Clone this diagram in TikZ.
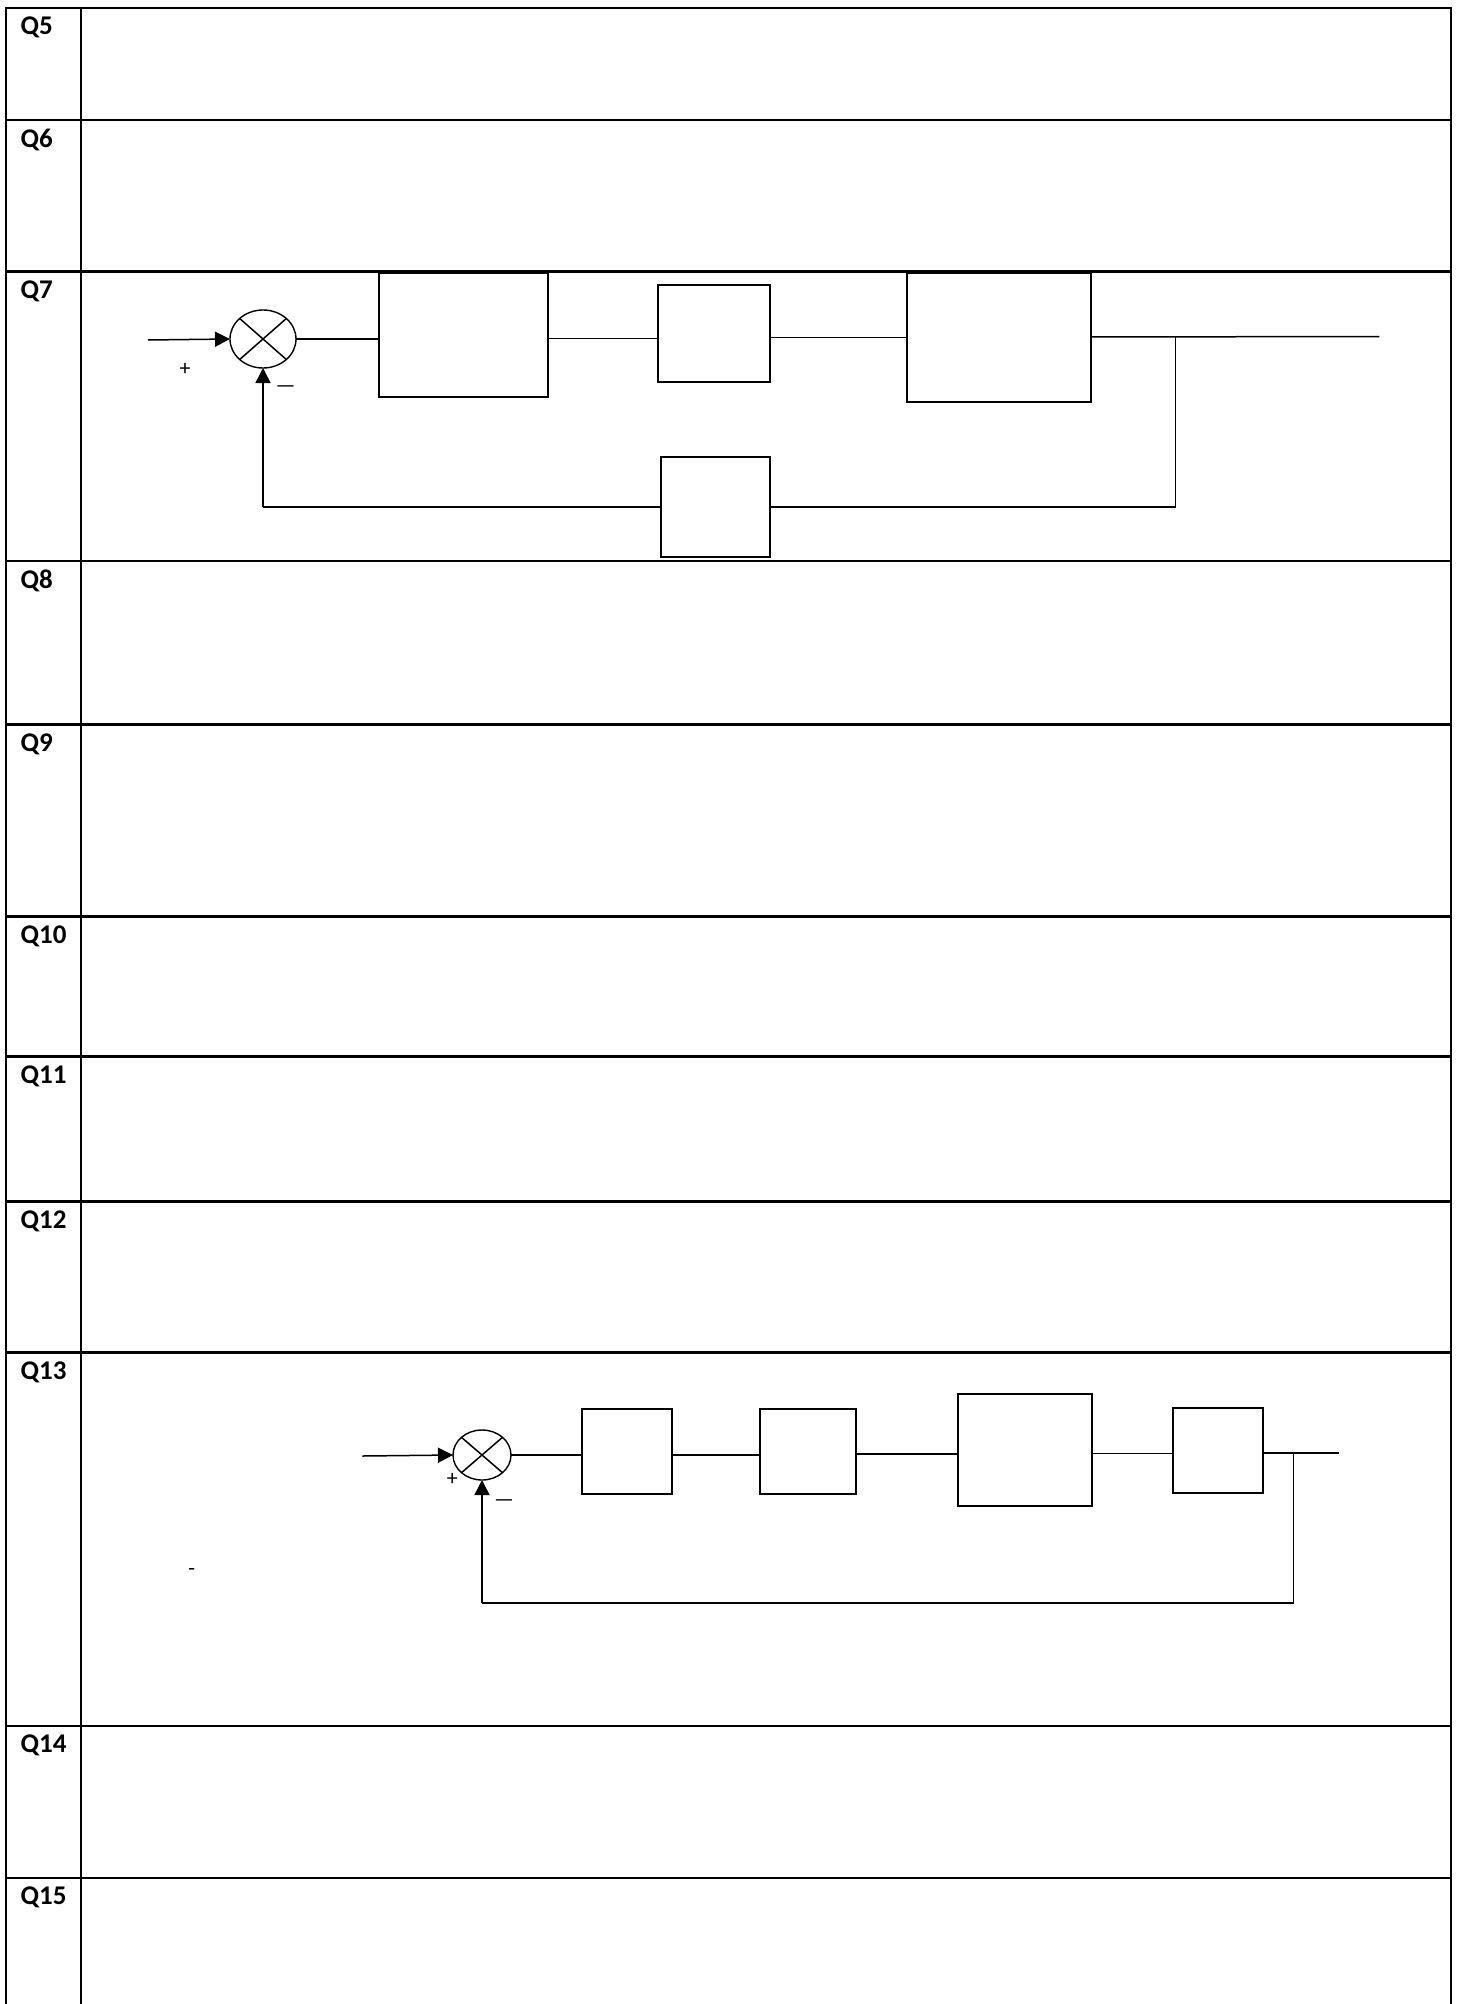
\documentclass[tikz,border=0pt]{standalone}
\usepackage{fontspec}
\setmainfont{Carlito}
\usetikzlibrary{shapes.geometric,arrows.meta}
\begin{document}
\begin{tikzpicture}[x=1pt,y=-1pt,
  tbl/.style={line width=2.2pt,line cap=rect},
  qlab/.style={anchor=north west,inner sep=0pt,font=\fontsize{27}{31}\selectfont\bfseries},
  blk/.style={draw,line width=2pt,inner sep=0pt,outer sep=0pt},
  sumj/.style={draw,ellipse,line width=1.4pt,inner sep=0pt,outer sep=0pt},
  wire/.style={line width=1.5pt},
  arr/.style={wire,-{Triangle[length=15pt,width=15pt]}},
  sgn/.style={inner sep=0pt,font=\fontsize{22}{26}\selectfont}]
\fill[white] (0,0) rectangle (1461,2004);
\useasboundingbox (0,0) rectangle (1461,2004);
% table
\foreach \yy in {7.7,120,271.5,561,724.5,916.5,1056.5,1201.5,1352.5,1725.7,1877.7}
  \draw[tbl] (6,\yy) -- (1451,\yy);
\draw[tbl] (6,7.7) -- (6,2010);
\draw[tbl] (81,7.7) -- (81,2010);
\draw[tbl] (1451,7.7) -- (1451,2010);
% labels
\node[qlab] (q5)  at (20.5,16.7)   {Q5};
\node[qlab] (q6)  at (20.5,129)    {Q6};
\node[qlab] (q7)  at (20.5,280.5)  {Q7};
\node[qlab] (q8)  at (20.5,570)    {Q8};
\node[qlab] (q9)  at (20.5,733.5)  {Q9};
\node[qlab] (q10) at (20.5,925.5)  {Q10};
\node[qlab] (q11) at (20.5,1065.5) {Q11};
\node[qlab] (q12) at (20.5,1210.5) {Q12};
\node[qlab] (q13) at (20.5,1361.5) {Q13};
\node[qlab] (q14) at (20.5,1734.7) {Q14};
\node[qlab] (q15) at (20.5,1886.7) {Q15};

% ---------- Q7 diagram ----------
\node[sumj,minimum width=66pt,minimum height=58pt] (s1) at (263,339) {};
\draw[wire] (s1.north west) -- (s1.south east);
\draw[wire] (s1.north east) -- (s1.south west);
\coordinate (in1) at (148,340);
\draw[arr] (in1) -- (s1.west);
\node[sgn] (p1) at (185,369) {+};
\node[sgn] (m1) at (285.7,389.3) {—};
\node[blk,minimum width=169pt,minimum height=123.7pt] (b1) at (463.5,335.2) {};
\node[blk,minimum width=112.3pt,minimum height=97pt] (b2) at (713.9,333.5) {};
\node[blk,minimum width=184pt,minimum height=128.7pt] (b3) at (998.7,337.7) {};
\node[blk,minimum width=109pt,minimum height=100.7pt] (h1) at (715.5,507) {};
\draw[wire] (s1.east) -- (s1.east -| b1.west);
\coordinate (j12) at (548,338.5);
\draw[wire] (j12) -- (j12 -| b2.west);
\coordinate (j23) at (770,337.5);
\draw[wire] (j23) -- (j23 -| b3.west);
\coordinate (o1) at (1379.3,336.5);
\coordinate (br1) at (1175.5,337);
\draw[wire] (b3.east |- br1) -- (o1);
\draw[wire] (br1) -- (br1 |- h1.east) -- (h1.east);
\draw[wire] (h1.west) -- (h1.west -| s1.south);
\draw[arr] (h1.west -| s1.south) -- (s1.south);

% ---------- Q13 diagram ----------
\node[sumj,minimum width=58pt,minimum height=50pt] (s2) at (482,1455) {};
\draw[wire] (s2.north west) -- (s2.south east);
\draw[wire] (s2.north east) -- (s2.south west);
\coordinate (in2) at (362.3,1456);
\draw[arr] (in2) -- (s2.west);
\node[sgn] (p2) at (452.3,1479.3) {+};
\node[sgn] (m2) at (504,1502.7) {—};
\node[blk,minimum width=90.6pt,minimum height=84.4pt] (c1) at (627,1451.5) {};
\node[blk,minimum width=95.7pt,minimum height=84.4pt] (c2) at (807.9,1451.5) {};
\node[blk,minimum width=133.4pt,minimum height=111.4pt] (c3) at (1025,1450) {};
\node[blk,minimum width=90.3pt,minimum height=84.4pt] (c4) at (1217.9,1450.5) {};
\draw[wire] (s2.east) -- (s2.east -| c1.west);
\coordinate (k12) at (672.3,1455);
\draw[wire] (k12) -- (k12 -| c2.west);
\coordinate (k23) at (855.7,1454);
\draw[wire] (k23) -- (k23 -| c3.west);
\coordinate (k34) at (1091.7,1453.5);
\draw[wire] (k34) -- (k34 -| c4.west);
\coordinate (o2) at (1339.3,1453);
\coordinate (br2) at (1293.5,1453);
\coordinate (fb2) at (1293.5,1603);
\draw[wire] (c4.east |- o2) -- (o2);
\draw[wire] (br2) -- (fb2) -- (fb2 -| s2.south);
\draw[arr] (fb2 -| s2.south) -- (s2.south);

% stray mark
\node[sgn] (dash) at (191.7,1572) {-};
\end{tikzpicture}
\end{document}
